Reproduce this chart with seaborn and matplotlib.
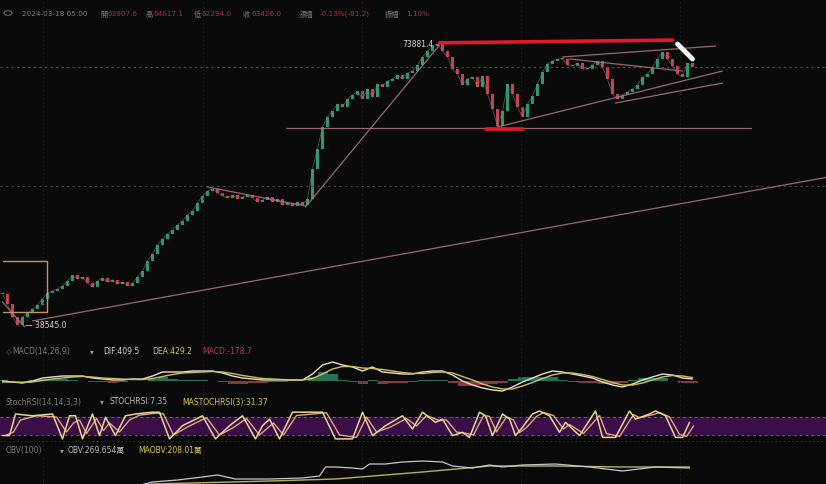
import numpy as np
import matplotlib
matplotlib.use("Agg")
import matplotlib.pyplot as plt
import seaborn as sns

# candle closes (one per candle)
closes = [42430, 41180, 39550, 38545, 39550, 40050, 40550, 41050, 41800, 42560,
          42810, 43060, 43430, 44060, 44810, 44310, 44560, 43810, 43310, 44060,
          44440, 43930, 44190, 43680, 43930, 43430, 43810, 44560, 45310, 46570,
          47440, 48570, 49320, 49950, 50450, 51080, 51580, 52330, 52830, 53830,
          54710, 55340, 55590, 55090, 54710, 54460, 54840, 54330, 54590, 54840,
          54460, 53960, 54210, 54590, 53960, 54330, 53580, 53830, 53460, 53960,
          53580, 54330, 58090, 60600, 63360, 64610, 65360, 66240, 65860, 66860,
          67370, 67870, 66860, 68120, 67120, 68740, 68370, 69120, 69370, 69870,
          69370, 70120, 70370, 71120, 72130, 72880, 73510, 73760, 72880, 72130,
          70620, 70000, 68620, 69370, 69620, 68370, 69750, 67490, 65610, 63480,
          65360, 68740, 67490, 65860, 64610, 66240, 67240, 68740, 70250, 71250,
          71630, 71880, 71880, 71120, 71000, 71380, 70620, 70620, 71120, 71630,
          70870, 69370, 67490, 66860, 67370, 67740, 68120, 68620, 69620, 70000,
          70870, 71880, 72750, 71880, 71000, 70000, 69620, 71380, 70870]

# MACD, one value every second candle
dif = [0, -100, -200, 0, 300, 400, 500, 500, 500, 300, 200, 100, 100, 200, 200,
       500, 900, 900, 900, 1000, 1000, 1000, 800, 500, 300, 200, 100, 100, 100, 100,
       100, 700, 1600, 1900, 1600, 1400, 1000, 1400, 900, 800, 700, 700, 900, 1000, 1000,
       600, 0, -400, -700, -900, -1000, -600, -100, 300, 700, 1000, 900, 700, 500, 300,
       -100, -400, -600, -300, 100, 400, 700, 600, 300, 200]
dea = [-100, -100, -150, -100, 50, 200, 300, 400, 450, 400, 300, 250, 200, 150, 150,
       250, 450, 650, 800, 850, 900, 950, 900, 750, 550, 400, 250, 200, 150, 100,
       100, 250, 700, 1200, 1450, 1450, 1300, 1250, 1150, 1000, 850, 750, 750, 850, 900,
       800, 450, 100, -300, -600, -800, -800, -500, -150, 250, 600, 800, 800, 650, 450,
       150, -150, -400, -400, -200, 100, 400, 550, 500, 350]
macd_hist = [100, 0, -50, 100, 250, 200, 200, 100, 50, -100, -100, -150, -100, 50, 50,
             250, 450, 250, 100, 150, 100, 50, -100, -250, -250, -200, -150, -100, -50, 0,
             0, 450, 900, 700, 150, -50, -300, 150, -250, -200, -150, -50, 150, 150, 100,
             -200, -450, -500, -400, -300, -200, 200, 400, 450, 450, 400, 100, -100, -150, -150,
             -250, -250, -200, 100, 300, 300, 300, 50, -200, -150]

# StochRSI turning points (x in candles)
stoch_k_x = [0, 1.4, 2.6, 6, 10, 12, 13.4, 14.6, 16, 18, 19.4, 20.6, 22.6, 24.6, 26.6,
             30, 31.4, 33.4, 36, 40, 42.6, 45.4, 48, 50.6, 52, 53.4, 55.4, 58, 64, 66.6,
             70, 72, 74, 76.6, 80, 82, 84, 86.6, 88, 90, 92, 93.4, 95.4, 96.6, 98,
             100, 101.4, 102.6, 104, 106, 107.4, 109.4, 111.4, 112.6, 115.4, 118.6, 120, 122.6, 125.4, 126.6,
             129.4, 130.6, 132.6, 134.6, 136, 137.4]
stoch_k = [18, 18, 90, 84, 90, 7, 84, 84, 7, 90, 18, 79, 18, 84, 90,
           96, 96, 7, 51, 84, 7, 51, 84, 7, 51, 73, 7, 96, 96, 7,
           7, 96, 18, 51, 84, 40, 96, 62, 73, 18, 29, 12, 96, 84, 18,
           90, 73, 18, 46, 90, 100, 84, 29, 62, 18, 100, 12, 12, 100, 73,
           90, 100, 84, 12, 12, 62]
stoch_d_x = [0.8, 2.2, 3.6, 6.8, 10.8, 12.8, 14.2, 15.4, 16.8, 18.8, 20.2, 21.4, 23.4, 25.4, 27.4,
             30.8, 32.2, 34.2, 36.8, 40.8, 43.4, 46.2, 48.8, 51.4, 52.8, 54.2, 56.2, 58.8, 64.8, 67.4,
             70.8, 72.8, 74.8, 77.4, 80.8, 82.8, 84.8, 87.4, 88.8, 90.8, 92.8, 94.2, 96.2, 97.4, 98.8,
             100.8, 102.2, 103.4, 104.8, 106.8, 108.2, 110.2, 112.2, 113.4, 116.2, 119.4, 120.8, 123.4, 126.2, 127.4,
             130.2, 131.4, 133.4, 135.4, 136.8, 138.2]
stoch_d = [20, 30, 70, 84, 80, 30, 60, 70, 25, 75, 35, 60, 30, 70, 86,
           93, 90, 20, 45, 78, 20, 45, 75, 20, 40, 60, 20, 85, 94, 20,
           12, 80, 30, 45, 75, 50, 85, 68, 70, 30, 25, 20, 85, 82, 30,
           80, 70, 28, 45, 82, 95, 85, 40, 55, 25, 85, 25, 15, 88, 78,
           88, 95, 80, 22, 15, 50]

# OBV (in 10k units)
obv_x = [26, 30, 35, 40, 43, 46.6, 53.4, 60, 63.4, 64.6, 66.6, 70, 72, 73.4, 76.6,
         80, 84, 88, 90, 94, 97.4, 100, 104, 110.6, 117.4, 124, 130.6, 137.4]
obv = [20, 70, 90, 120, 140, 100, 100, 110, 130, 220, 220, 210, 200, 250, 250,
       270, 280, 270, 230, 210, 240, 220, 240, 250, 220, 180, 220, 210]
maobv_x = [26, 30, 53.4, 66.6, 84, 97.4, 110.6, 124, 137.4]
maobv = [30, 50, 80, 100, 170, 230, 230, 220, 220]

# drawn trendlines: (x0, price0, x1, price1)
red_lines = [(87.4, 73900, 134, 74250), (96.6, 63100, 104, 63100)]
pink_lines = [(56.6, 63230, 149.6, 63230), (6, 39050, 165.2, 57090),
              (60.6, 53330, 87.4, 73630), (41, 55840, 60.6, 53460),
              (0, 41430, 4.4, 38300), (99, 63360, 144, 70370),
              (122.6, 66360, 144, 68870), (112, 72130, 142.6, 73500),
              (113.4, 71880, 136, 70370)]
box = (0, 40175, 8.8, 46566)
pen = (135, 73756, 138, 71876)
last_price = 70874
grid_price = 55963
peak, low = 73881.4, 38545.0

header = ["2024-03-18 05:00", "開", "63907.6", "高", "64017.1", "低", "62294.0",
          "收", "63426.0", "漲幅", "-0.13%(-81.2)", "振幅", "1.10%"]

BG = "#0a0a0a"
GREEN = "#2a9a70"
RED = "#c4434c"
PINK = "#a8737c"
W, H = 826, 485

sns.set_theme(style="dark", rc={"axes.facecolor": BG, "figure.facecolor": BG})
plt.rcParams["font.family"] = ["DejaVu Sans", "Noto Sans CJK TC"]

fig = plt.figure(figsize=(W / 100, H / 100), dpi=100)


def rect(top, bottom):
    return [0, 1 - bottom / H, 1, (bottom - top) / H]


def label(x, y, s, color, size=5.5):
    fig.text(x / W, 1 - y / H, s, color=color, fontsize=size, va="center", ha="left")


XLIM = (-0.5, 164.7)
grid_x = [8, 40, 71.8, 103.6, 135.4]

# ---- price panel
ax = fig.add_axes(rect(0, 342))
ax.set_xlim(*XLIM)
ax.set_ylim(36540, 79395)
ax.set_axis_off()
for gx in grid_x:
    ax.axvline(gx, color="#1e1e1e", lw=0.6, ls=(0, (2, 3)))
ax.axhline(grid_price, color="#444444", lw=0.8, ls=(0, (2, 3)))
ax.axhline(last_price, color="#8a3a48", lw=0.8, ls=(0, (2, 3)))

c = np.array(closes, dtype=float)
o = np.r_[c[0], c[:-1]]
xs = np.arange(len(c))
up = c >= o
bot = np.minimum(o, c)
hgt = np.maximum(np.abs(c - o), 120)
sns.lineplot(x=xs, y=c, ax=ax, color="#8c7c80", lw=0.6, alpha=0.6, estimator=None)
ax.bar(xs[up], hgt[up], bottom=bot[up], width=0.65, color=GREEN, linewidth=0)
ax.bar(xs[~up], hgt[~up], bottom=bot[~up], width=0.65, color=RED, linewidth=0)

for x0, p0, x1, p1 in pink_lines:
    ax.plot([x0, x1], [p0, p1], color=PINK, lw=0.9, alpha=0.9)
for x0, p0, x1, p1 in red_lines:
    ax.plot([x0, x1], [p0, p1], color="#e0192e", lw=2.6, solid_capstyle="round")
bx0, by0, bx1, by1 = box
ax.plot([bx0, bx1, bx1, bx0], [by1, by1, by0, by0], color="#c79468", lw=1.0)
ax.plot([pen[0], pen[2]], [pen[1], pen[3]], color="#f2f2f2", lw=3.5, solid_capstyle="round")

ax.text(86.2, peak, f"{peak:.1f}", color="#d8d8d8", fontsize=5.5, ha="right", va="center")
ax.text(4.4, low, f"— {low:.1f}", color="#d8d8d8", fontsize=5.5, ha="left", va="center")

# header line
hx = [22, 100, 108, 146, 154, 194, 202, 243, 251, 299, 320, 385, 406]
for i, (x, s) in enumerate(zip(hx, header)):
    col = "#7d7d7d" if i == 0 or i % 2 == 1 else "#a8343e"
    label(x, 14, s, col, 5.2)
fig.patches.append(plt.Circle((8 / W, 1 - 14 / H), 4 / W, transform=fig.transFigure,
                              fill=False, ec="#6a6a6a", lw=0.8))

# ---- MACD panel
ax2 = fig.add_axes(rect(342, 396))
ax2.set_xlim(*XLIM)
ax2.set_ylim(-1400, 4000)
ax2.set_axis_off()
for gx in grid_x:
    ax2.axvline(gx, color="#1e1e1e", lw=0.6, ls=(0, (2, 3)))
mx = np.arange(0, 2 * len(dif), 2)
hist = np.array(macd_hist)
ax2.bar(mx, hist, width=2, color=np.where(hist >= 0, GREEN, RED), alpha=0.75, linewidth=0)
sns.lineplot(x=mx, y=dif, ax=ax2, color="#e6e0d0", lw=1.0, estimator=None)
sns.lineplot(x=mx, y=dea, ax=ax2, color="#cfc060", lw=1.0, estimator=None)
label(6, 352, "◇", "#7d7d7d", 5)
label(12, 352, "MACD(14,26,9)", "#7d7d7d")
label(90, 352, "▾", "#9a9a9a")
label(103, 352, "DIF:409.5", "#d8d8d8")
label(152, 352, "DEA:429.2", "#d6c95a")
label(202, 352, "MACD:-178.7", "#b8404c")

# ---- StochRSI panel
ax3 = fig.add_axes(rect(396, 444))
ax3.set_xlim(*XLIM)
ax3.set_ylim(-6.7, 153.3)
ax3.set_axis_off()
ax3.axhspan(20, 80, color="#3a0f47", lw=0)
for lvl in (20, 80):
    ax3.axhline(lvl, color="#7a5a84", lw=0.7, ls=(0, (3, 3)))
ax3.axhline(0, color="#333333", lw=0.6, ls=(0, (2, 3)))
for gx in grid_x:
    ax3.axvline(gx, color="#1e1e1e", lw=0.6, ls=(0, (2, 3)))
sns.lineplot(x=stoch_d_x, y=stoch_d, ax=ax3, color="#e8a08a", lw=1.0, estimator=None)
sns.lineplot(x=stoch_k_x, y=stoch_k, ax=ax3, color="#e2d890", lw=1.1, estimator=None)
label(6, 402, "StochRSI(14,14,3,3)", "#7d7d7d")
label(100, 402, "▾", "#9a9a9a")
label(110, 402, "STOCHRSI:7.35", "#bdbdbd")
label(182, 402, "MASTOCHRSI(3):31.37", "#d6c95a")

# ---- OBV panel
ax4 = fig.add_axes(rect(444, 485))
ax4.set_xlim(*XLIM)
ax4.set_ylim(50, 460)
ax4.set_axis_off()
for gx in grid_x:
    ax4.axvline(gx, color="#1e1e1e", lw=0.6, ls=(0, (2, 3)))
sns.lineplot(x=maobv_x, y=maobv, ax=ax4, color="#b8b060", lw=1.0, estimator=None)
sns.lineplot(x=obv_x, y=obv, ax=ax4, color="#c8c8d0", lw=0.9, estimator=None)
label(6, 451, "OBV(100)", "#7d7d7d")
label(60, 451, "▾", "#9a9a9a")
label(68, 451, "OBV:269.654萬", "#bdbdbd")
label(138, 451, "MAOBV:208.01萬", "#d6c95a")

fig.savefig("out.png", dpi=100, facecolor=BG)
